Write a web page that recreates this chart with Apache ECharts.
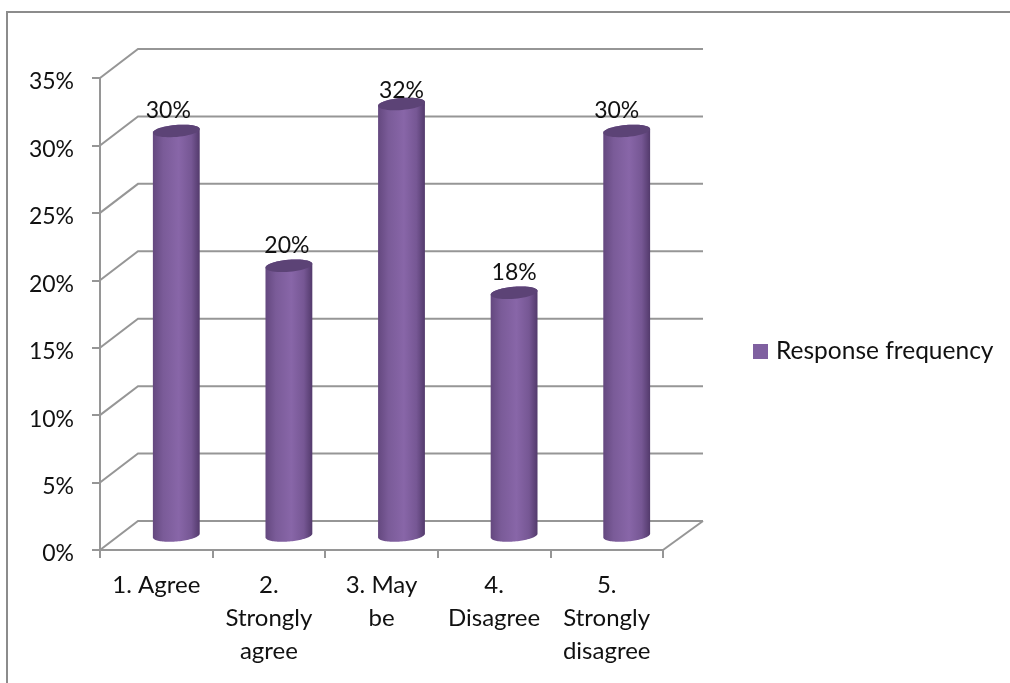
<!DOCTYPE html>
<html>
<head>
<meta charset="utf-8">
<style>html,body{margin:0;padding:0;background:#fff}#chart{width:1010px;height:683px}</style>
<script src="https://cdn.jsdelivr.net/npm/echarts@6/dist/echarts.min.js"></script>
</head>
<body>
<div id="chart"></div>
<script>
const categories = ['1. Agree', '2.\nStrongly\nagree', '3. May\nbe', '4.\nDisagree', '5.\nStrongly\ndisagree'];
const responseFrequency = [30, 20, 32, 18, 30];
const valueTicks = [0, 5, 10, 15, 20, 25, 30, 35];
const seriesName = 'Response frequency';

// Oblique depth of the chart box and placement of the cylinders within it.
const depthX = 40, depthY = 29;
const barShiftX = 20, barShiftY = -14.5, barRadiusX = 23.5, barRadiusY = 6, barTilt = -0.085;
// Horizontal and vertical nudges for each value label, relative to the bar top.
const labelNudgeX = [-8, -2, 0, 0, -10];
const labelNudgeY = [-20, -20, -13, -20, -20];

const FONT = 'Lato';
const TICK_SIZE = 23, CATEGORY_SIZE = 24, LEGEND_SIZE = 24.5;
const GRID = '#969696';
const TEXT = '#111';

function ellipsePoint(cx, cy, angle) {
  const x = barRadiusX * Math.cos(angle), y = barRadiusY * Math.sin(angle);
  return [cx + x * Math.cos(barTilt) - y * Math.sin(barTilt),
          cy + x * Math.sin(barTilt) + y * Math.cos(barTilt)];
}

function arcPoints(cx, cy, from, to) {
  const pts = [];
  for (let i = 0; i <= 48; i++) pts.push(ellipsePoint(cx, cy, from + (to - from) * i / 48));
  return pts;
}

// Back wall and floor lines for one value tick.
function renderWall(params, api) {
  const p = api.coord([0, api.value(0)]);
  const cs = params.coordSys;
  const style = { stroke: GRID, lineWidth: 2, fill: null };
  const children = [{
    type: 'polyline',
    shape: { points: [[cs.x, p[1]], [cs.x + depthX - 2, p[1] - depthY], [cs.x + cs.width + depthX, p[1] - depthY]] },
    style
  }];
  if (api.value(0) === 0) {
    children.push({
      type: 'line',
      shape: { x1: cs.x + cs.width, y1: p[1], x2: cs.x + cs.width + depthX, y2: p[1] - depthY },
      style
    });
  }
  return { type: 'group', children };
}

// One cylinder: body with a horizontal sheen and a darker elliptical cap.
function renderCylinder(params, api) {
  const i = api.value(0), v = api.value(1);
  const top = api.coord([i, v]), base = api.coord([i, 0]);
  const cx = top[0] + barShiftX;
  const topY = top[1] + barShiftY, baseY = base[1] + barShiftY;
  const bodyPts = arcPoints(cx, baseY, 0, Math.PI).concat(arcPoints(cx, topY, Math.PI, 2 * Math.PI));
  const sheen = {
    type: 'linear', x: 0, y: 0, x2: 1, y2: 0,
    colorStops: [
      { offset: 0, color: '#64487f' },
      { offset: 0.22, color: '#7a5b98' },
      { offset: 0.55, color: '#8866a8' },
      { offset: 0.82, color: '#765794' },
      { offset: 1, color: '#533a6c' }
    ]
  };
  return {
    type: 'group',
    children: [
      { type: 'polygon', shape: { points: bodyPts }, style: { fill: sheen } },
      { type: 'polygon', shape: { points: arcPoints(cx, topY, 0, 2 * Math.PI) }, style: { fill: '#5c4376' } },
      {
        type: 'text',
        style: {
          x: cx + labelNudgeX[i], y: topY + labelNudgeY[i],
          text: v + '%', fill: TEXT, font: TICK_SIZE + 'px ' + FONT,
          align: 'center', verticalAlign: 'middle'
        }
      }
    ]
  };
}

const chart = echarts.init(document.getElementById('chart'), null, { renderer: 'canvas' });
chart.setOption({
  animation: false,
  backgroundColor: '#fff',
  // Page frame: only the left and top edges fall inside the view.
  graphic: [{
    type: 'polyline',
    silent: true,
    shape: { points: [[7, 683], [7, 12], [1010, 12]] },
    style: { fill: null, stroke: '#8c8c8c', lineWidth: 2 }
  }],
  legend: {
    left: 748, top: 334,
    icon: 'rect', itemWidth: 15, itemHeight: 15, itemGap: 0,
    data: [{ name: seriesName }],
    textStyle: { fontFamily: FONT, fontSize: LEGEND_SIZE, color: TEXT, padding: [0, 0, 0, 3] }
  },
  grid: { left: 100, top: 78, width: 563, height: 472, containLabel: false },
  xAxis: {
    type: 'category',
    data: categories,
    boundaryGap: true,
    axisLine: { lineStyle: { color: GRID, width: 2 } },
    axisTick: { show: true, alignWithLabel: false, length: 8, lineStyle: { color: GRID, width: 2 } },
    axisLabel: { interval: 0, margin: 19, lineHeight: 33, fontFamily: FONT, fontSize: CATEGORY_SIZE, color: TEXT }
  },
  yAxis: {
    type: 'value',
    min: valueTicks[0],
    max: valueTicks[valueTicks.length - 1],
    interval: 5,
    splitLine: { show: false },
    axisLine: { show: true, lineStyle: { color: GRID, width: 2 } },
    axisTick: { show: true, length: 8, lineStyle: { color: GRID, width: 2 } },
    axisLabel: { margin: 26, verticalAlign: 'top', lineHeight: 8, formatter: '{value}%', fontFamily: FONT, fontSize: TICK_SIZE, color: TEXT }
  },
  series: [
    {
      type: 'custom',
      silent: true,
      renderItem: renderWall,
      encode: { y: 0 },
      data: valueTicks,
      z: 1,
      clip: false
    },
    {
      name: seriesName,
      type: 'custom',
      renderItem: renderCylinder,
      encode: { x: 0, y: 1 },
      data: responseFrequency.map((v, i) => [i, v]),
      itemStyle: { color: '#7f60a0' },
      z: 2,
      clip: false
    }
  ]
});
</script>
</body>
</html>
